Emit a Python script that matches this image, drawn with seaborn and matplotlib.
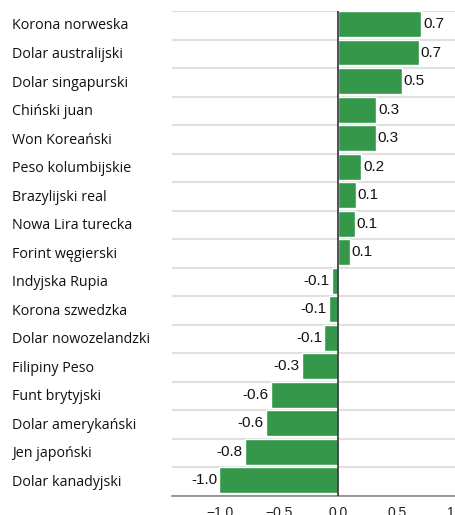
import matplotlib
matplotlib.use("Agg")
import matplotlib.pyplot as plt
import seaborn as sns
import pandas as pd
import numpy as np

categories = ["Korona norweska", "Dolar australijski", "Dolar singapurski", "Chiński juan",
              "Won Koreański", "Peso kolumbijskie", "Brazylijski real", "Nowa Lira turecka",
              "Forint węgierski", "Indyjska Rupia", "Korona szwedzka", "Dolar nowozelandzki",
              "Filipiny Peso", "Funt brytyjski", "Dolar amerykański", "Jen japoński",
              "Dolar kanadyjski"]
values = [0.70, 0.68, 0.535, 0.32, 0.315, 0.19, 0.145, 0.137, 0.095, -0.055, -0.08, -0.12,
          -0.31, -0.575, -0.615, -0.795, -1.01]
xticks = [-1.0, -0.5, 0.0, 0.5, 1.0]

df = pd.DataFrame({"cat": categories, "val": values})

sns.set_style("white")
plt.rcParams["font.family"] = ["Liberation Sans", "DejaVu Sans"]

W, H = 456, 515
fig = plt.figure(figsize=(W / 100, H / 100), dpi=100)
ax = fig.add_axes([172 / W, 1 - 496 / H, (458 - 172) / W, (496 - 11) / H])

green = "#34974a"
bw = 0.91
sns.barplot(data=df, x="val", y="cat", orient="h", color=green, width=bw,
            saturation=1, ax=ax, zorder=3)

n = len(categories)
ax.set_xlim(-1.41, 1.013)
ax.set_ylim(n - bw / 2, -bw / 2)
ax.set_xlabel("")
ax.set_ylabel("")

# gridlines at row boundaries (bar tops)
ax.set_yticks(np.arange(n + 1) - bw / 2, minor=True)
ax.grid(True, axis="y", which="minor", color="#e0e0e0", linewidth=1.5, zorder=0)
ax.grid(False, which="major")
ax.tick_params(axis="y", which="minor", length=0)

# zero line
ax.axvline(0, color="#333333", linewidth=1.2, zorder=4)

for s in ["top", "right", "left"]:
    ax.spines[s].set_visible(False)
ax.spines["bottom"].set_color("#888888")
ax.spines["bottom"].set_linewidth(1.2)

ax.set_xticks(xticks)
ax.set_xticklabels([f"{t:.1f}".replace("-", "\u2212") for t in xticks], fontsize=10,
                   color="#222222")
ax.tick_params(axis="x", length=5, color="#888888", width=1, pad=2)

ax.set_yticks(range(n))
ax.set_yticklabels(categories, fontsize=10.3, family=["Open Sans", "DejaVu Sans"],
                   ha="left", color="#111111")
ax.tick_params(axis="y", which="major", length=0, pad=160 * 0.72)

for i, v in enumerate(values):
    lab = f"{v:.1f}"
    if v >= 0:
        ax.annotate(lab, (v, i), xytext=(1.5, 0), textcoords="offset points",
                    ha="left", va="center", fontsize=11, color="#111111", zorder=5)
    else:
        ax.annotate(lab, (v, i), xytext=(-1.5, 0), textcoords="offset points",
                    ha="right", va="center", fontsize=11, color="#111111", zorder=5)

fig.savefig("out.png", dpi=100)
